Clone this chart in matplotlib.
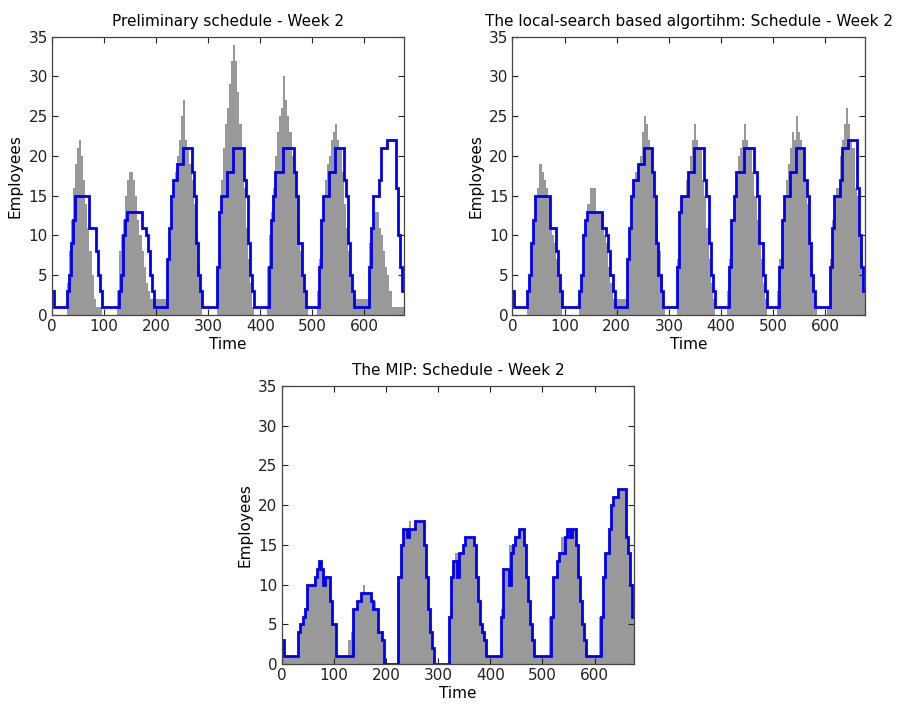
import numpy as np
import matplotlib
matplotlib.use("Agg")
import matplotlib.pyplot as plt

# hourly values for one week (4 time units per hour), plus one carry-over hour
staff_week = [
    3, 1, 1, 1, 1, 1, 1, 3, 5, 9, 12, 15, 15, 15, 15, 15, 15, 15, 11, 11, 11, 8, 5, 3,
    1, 1, 1, 1, 1, 1, 1, 1, 3, 5, 10, 12, 13, 13, 13, 13, 13, 13, 13, 11, 11, 10, 8, 5,
    3, 1, 1, 1, 1, 1, 1, 7, 11, 15, 17, 17, 19, 19, 19, 21, 21, 21, 21, 18, 15, 9, 5, 3,
    1, 1, 1, 1, 1, 1, 1, 6, 13, 15, 15, 15, 18, 18, 18, 21, 21, 21, 21, 21, 17, 15, 9, 5,
    3, 1, 1, 1, 1, 1, 1, 1, 6, 12, 15, 18, 18, 18, 18, 21, 21, 21, 21, 21, 18, 15, 9, 9,
    5, 3, 1, 1, 1, 1, 1, 1, 6, 12, 15, 15, 15, 18, 18, 18, 21, 21, 21, 21, 17, 15, 9, 5,
    3, 1, 1, 1, 1, 1, 1, 1, 6, 11, 15, 15, 15, 17, 21, 21, 21, 22, 22, 22, 22, 16, 10, 6,
    3,
]

demand_prelim = [
    0, 0, 0, 0, 0, 0, 0, 4, 8, 12, 16, 19, 21, 22, 20, 17, 14, 11, 8, 5, 2, 1, 1, 1,
    0, 0, 0, 0, 0, 0, 0, 3, 8, 10, 12, 15, 17, 18, 18, 17, 15, 12, 10, 8, 6, 4, 3, 2,
    2, 2, 2, 2, 2, 2, 2, 7, 10, 13, 16, 18, 20, 22, 25, 27, 22, 21, 19, 17, 14, 10, 6, 3,
    0, 0, 0, 0, 0, 0, 0, 6, 13, 17, 21, 24, 26, 29, 32, 34, 32, 28, 24, 21, 16, 11, 7, 4,
    1, 0, 0, 0, 0, 0, 0, 6, 10, 13, 16, 20, 23, 25, 26, 30, 27, 25, 23, 20, 18, 15, 11, 8,
    5, 3, 1, 0, 0, 0, 0, 3, 7, 12, 15, 17, 19, 20, 22, 23, 24, 22, 21, 18, 14, 11, 8, 5,
    3, 2, 2, 2, 2, 2, 2, 2, 9, 11, 12, 13, 13, 11, 10, 8, 6, 5, 3, 1, 1, 1, 1, 1,
    1,
]

demand_local = [
    0, 0, 0, 0, 0, 0, 0, 3, 5, 9, 12, 15, 16, 19, 18, 17, 16, 15, 11, 10, 9, 7, 5, 3,
    0, 0, 0, 0, 0, 0, 0, 0, 3, 5, 10, 12, 14, 16, 16, 16, 13, 13, 13, 11, 10, 9, 6, 4,
    2, 2, 2, 2, 2, 2, 2, 7, 11, 15, 17, 18, 19, 20, 23, 25, 24, 22, 21, 18, 15, 12, 8, 5,
    1, 0, 0, 0, 0, 0, 0, 7, 13, 15, 15, 17, 18, 20, 22, 24, 22, 21, 21, 17, 15, 11, 7, 4,
    2, 0, 0, 0, 0, 0, 0, 3, 7, 12, 15, 16, 20, 21, 22, 24, 22, 21, 21, 18, 15, 12, 9, 7,
    4, 2, 0, 0, 0, 0, 0, 3, 7, 12, 15, 17, 19, 21, 23, 22, 25, 23, 22, 21, 17, 14, 10, 6,
    3, 1, 0, 0, 0, 0, 0, 1, 7, 12, 15, 16, 16, 20, 22, 24, 26, 24, 22, 21, 16, 15, 10, 7,
    3,
]

staff_mip = [
    3, 1, 1, 1, 1, 1, 1, 1, 4, 5, 6, 7, 10, 10, 10, 10, 11, 12, 13, 12, 10, 11, 11, 8,
    5, 5, 1, 1, 1, 1, 1, 1, 1, 1, 7, 7, 8, 8, 9, 9, 9, 9, 9, 8, 7, 7, 4, 4,
    3, 0, 0, 0, 0, 0, 0, 0, 11, 15, 17, 17, 16, 17, 17, 17, 18, 18, 18, 18, 15, 11, 7, 4,
    2, 0, 0, 0, 0, 0, 0, 0, 6, 11, 13, 13, 11, 14, 14, 15, 16, 16, 16, 16, 15, 11, 8, 5,
    4, 3, 1, 1, 1, 1, 1, 1, 1, 6, 12, 12, 12, 10, 14, 15, 16, 16, 17, 17, 15, 11, 8, 5,
    3, 1, 1, 1, 1, 1, 1, 1, 1, 6, 11, 11, 13, 14, 14, 14, 16, 17, 16, 17, 17, 15, 11, 8,
    5, 3, 1, 1, 1, 1, 1, 1, 1, 6, 11, 14, 14, 17, 20, 21, 21, 22, 22, 22, 22, 16, 14, 10,
    6,
]

demand_mip = [
    3, 1, 1, 1, 1, 1, 1, 1, 4, 5, 6, 7, 10, 10, 10, 10, 11, 12, 13, 12, 11, 11, 11, 8,
    5, 5, 1, 1, 1, 1, 1, 1, 3, 4, 7, 7, 8, 8, 9, 10, 9, 9, 9, 8, 8, 7, 4, 4,
    3, 0, 0, 0, 0, 0, 0, 0, 11, 15, 17, 17, 17, 18, 17, 17, 18, 18, 18, 18, 15, 11, 7, 4,
    2, 0, 0, 0, 0, 0, 0, 0, 6, 11, 13, 14, 14, 14, 14, 15, 16, 16, 16, 16, 15, 11, 8, 5,
    4, 3, 1, 1, 1, 1, 1, 1, 1, 7, 12, 12, 12, 15, 15, 15, 16, 16, 17, 17, 15, 11, 8, 5,
    3, 1, 1, 1, 1, 1, 1, 1, 6, 6, 11, 11, 13, 14, 16, 16, 16, 17, 17, 17, 17, 15, 11, 8,
    5, 3, 1, 1, 1, 1, 1, 1, 6, 6, 11, 14, 14, 17, 20, 21, 21, 22, 22, 22, 22, 16, 14, 10,
    6,
]

titles = [
    "Preliminary schedule - Week 2",
    "The local-search based algortihm: Schedule - Week 2",
    "The MIP: Schedule - Week 2",
]

STEP = 4  # time units per hourly value
edges = np.arange(len(staff_week) + 1) * STEP


def draw_schedule(ax, demand, staff, title):
    ax.stairs(demand, edges, fill=True, color="#999999", linewidth=0)
    ax.stairs(staff, edges, baseline=None, color="#0000f0", linewidth=2.0)
    ax.set_xlim(0, 676)
    ax.set_ylim(0, 35)
    ax.set_xticks(range(0, 700, 100))
    ax.set_yticks(range(0, 40, 5))
    ax.tick_params(direction="in", top=True, right=True, length=4,
                   width=0.8, labelsize=11, pad=3, colors="#222222")
    for s in ax.spines.values():
        s.set_color("#444444")
        s.set_linewidth(0.9)
    ax.set_title(title, fontsize=11, pad=8)
    ax.set_xlabel("Time", fontsize=11, labelpad=2)
    ax.set_ylabel("Employees", fontsize=11, labelpad=4)


fig = plt.figure(figsize=(8.99, 7.04), dpi=100)
ax1 = fig.add_axes([0.0578, 0.5526, 0.3916, 0.3953])
ax2 = fig.add_axes([0.5699, 0.5526, 0.3923, 0.3953])
ax3 = fig.add_axes([0.3133, 0.0564, 0.3922, 0.3957])

draw_schedule(ax1, demand_prelim, staff_week, titles[0])
draw_schedule(ax2, demand_local, staff_week, titles[1])
draw_schedule(ax3, demand_mip, staff_mip, titles[2])

fig.savefig("out.png", dpi=100)
